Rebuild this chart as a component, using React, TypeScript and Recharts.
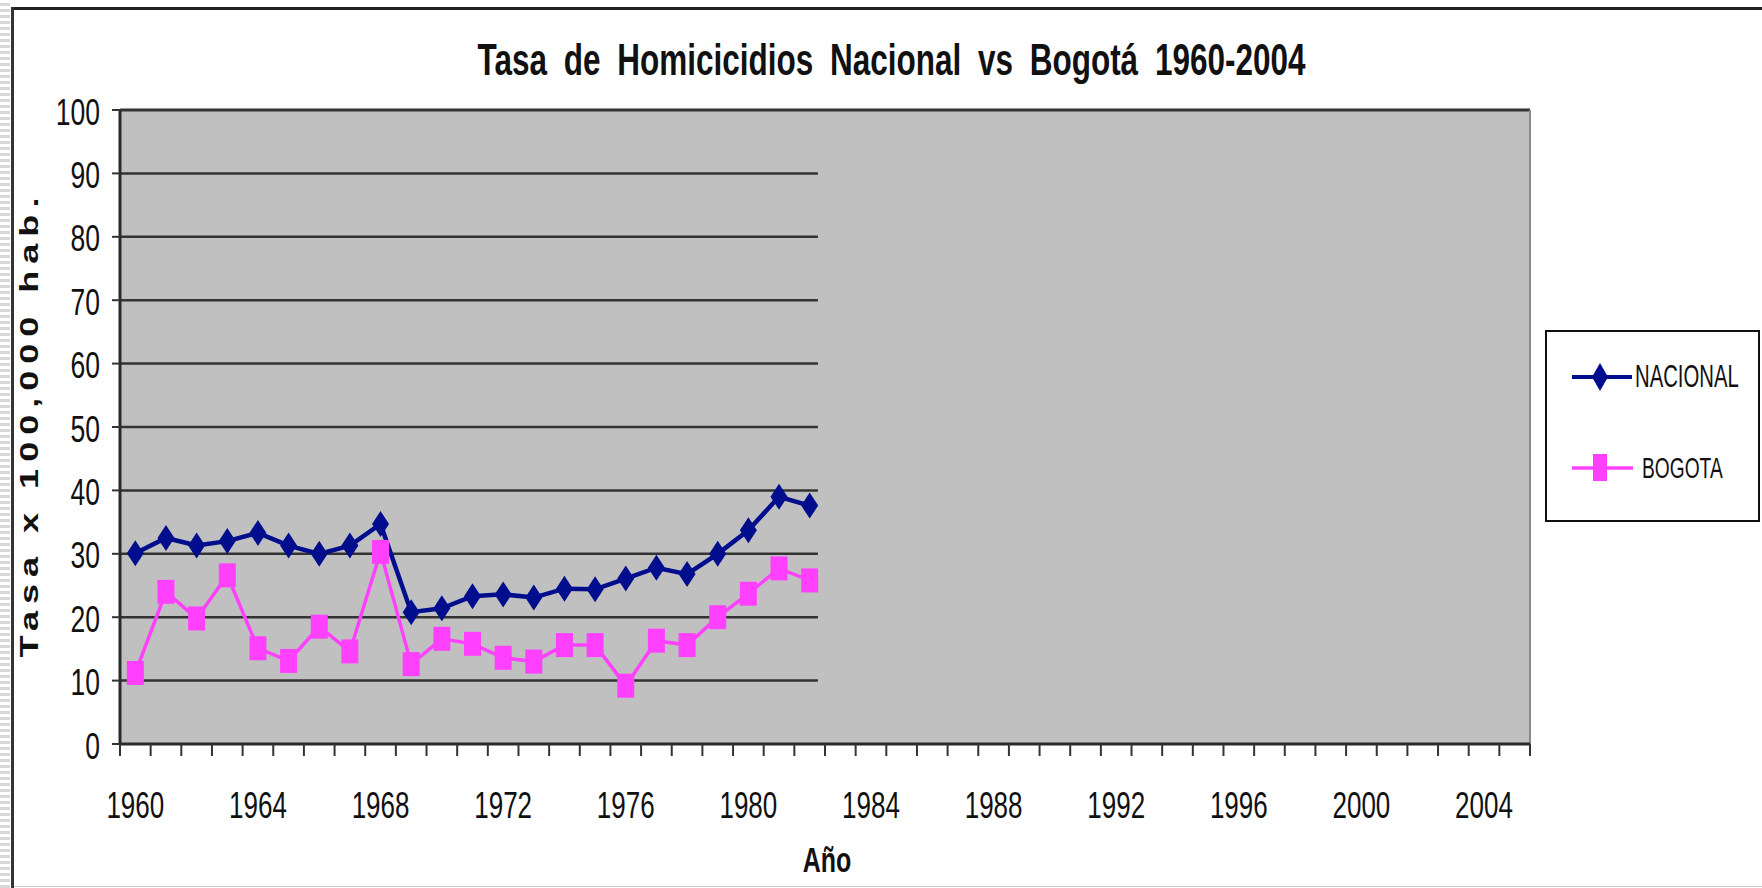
import React from 'react';
import {
  LineChart, Line, XAxis, YAxis, CartesianGrid, ReferenceLine, ReferenceArea, Legend, Customized,
} from 'recharts';

const years = [1960, 1961, 1962, 1963, 1964, 1965, 1966, 1967, 1968, 1969, 1970, 1971, 1972, 1973, 1974, 1975, 1976, 1977, 1978, 1979, 1980, 1981, 1982];
const nacional = [30.1, 32.5, 31.3, 32.0, 33.3, 31.3, 30.0, 31.3, 34.7, 20.8, 21.4, 23.3, 23.6, 23.1, 24.5, 24.4, 26.1, 27.8, 26.8, 30.0, 33.7, 39.0, 37.6];
const bogota = [11.2, 24.0, 19.8, 26.6, 15.1, 13.1, 18.5, 14.6, 30.3, 12.6, 16.6, 15.8, 13.6, 13.0, 15.6, 15.6, 9.2, 16.3, 15.6, 20.0, 23.7, 27.7, 25.8];
const yTicks = [0, 10, 20, 30, 40, 50, 60, 70, 80, 90, 100];
const gridValues = [10, 20, 30, 40, 50, 60, 70, 80, 90];
const xLabelTicks = [1960, 1964, 1968, 1972, 1976, 1980, 1984, 1988, 1992, 1996, 2000, 2004];
const xDomain: [number, number] = [1959.5, 2005.5];
const gridEnd = 1982.27;

const TITLE = 'Tasa de Homicicidios Nacional vs Bogotá 1960-2004';
const Y_TITLE = 'Tasa x 100,000 hab.';
const X_TITLE = 'Año';

const NAVY = '#000d8c';
const PINK = '#ff40ff';
const FONT = "'Liberation Sans', Arial, sans-serif";

const data = years.map((y, i) => ({ year: y, NACIONAL: nacional[i], BOGOTA: bogota[i] }));

const minorTicks: number[] = [];
for (let v = xDomain[0]; v <= xDomain[1] + 0.001; v += 1) minorTicks.push(v);
const allXTicks = [...minorTicks, ...xLabelTicks].sort((a, b) => a - b);

const YTick = (props: any) => {
  const { x, y, payload } = props;
  return (
    <text transform={`translate(${x},${y + 14.5}) scale(1,1.39)`} textAnchor="end" fontSize={26.5} fontFamily={FONT} fill="#111">
      {payload.value}
    </text>
  );
};

const XTick = (props: any) => {
  const { x, y, payload } = props;
  const v = payload.value as number;
  if (Math.abs(v % 1) > 0.01) {
    return <line x1={x} y1={y} x2={x} y2={y + 12} stroke="#333" strokeWidth={2} />;
  }
  return (
    <text transform={`translate(${x},${y + 74}) scale(1,1.39)`} textAnchor="middle" fontSize={26} fontFamily={FONT} fill="#111">
      {v}
    </text>
  );
};

const Diamond = (props: any) => {
  const { cx, cy, index, fill } = props;
  if (cx == null || cy == null) return null;
  return (
    <polygon key={`d-${index}`} points={`${cx},${cy - 13} ${cx + 8.5},${cy} ${cx},${cy + 13} ${cx - 8.5},${cy}`} fill={fill || NAVY} />
  );
};

const Square = (props: any) => {
  const { cx, cy, index, fill } = props;
  if (cx == null || cy == null) return null;
  return <rect key={`s-${index}`} x={cx - 8.5} y={cy - 12} width={17} height={24} fill={fill || PINK} />;
};

const Texts = () => (
  <g>
    <text transform="translate(891.5,75) scale(1,1.39)" textAnchor="middle" fontSize={31.5} fontWeight="bold" wordSpacing={8} fontFamily={FONT} fill="#111">
      {TITLE}
    </text>
    <text transform="translate(38,424) rotate(-90) scale(1.39,1)" textAnchor="middle" fontSize={26} fontWeight="bold" letterSpacing={5} fontFamily={FONT} fill="#111">
      {Y_TITLE}
    </text>
    <text transform="translate(827,872) scale(1,1.39)" textAnchor="middle" fontSize={25} fontWeight="bold" fontFamily={FONT} fill="#111">
      {X_TITLE}
    </text>
  </g>
);

const LegendBox = () => (
  <svg width={215} height={192} style={{ display: 'block' }}>
    <rect x={1} y={1} width={213} height={190} fill="#fff" stroke="#111" strokeWidth={2} />
    <line x1={27} y1={47} x2={87} y2={47} stroke={NAVY} strokeWidth={4} />
    <polygon points={`55,33 63,47 55,61 47,47`} fill={NAVY} />
    <text transform="translate(90,57) scale(1,1.55)" fontSize={20.3} fontFamily={FONT} fill="#111">NACIONAL</text>
    <line x1={27} y1={138} x2={88} y2={138} stroke={PINK} strokeWidth={3.5} />
    <rect x={48} y={124} width={14} height={27} fill={PINK} />
    <text transform="translate(97,148) scale(1,1.5)" fontSize={19.2} fontFamily={FONT} fill="#111">BOGOTA</text>
  </svg>
);

export default function App() {
  return (
    <div style={{ position: 'absolute', left: 0, top: 0, width: 1762, height: 888, background: '#fff', overflow: 'hidden' }}>
      <div style={{ position: 'absolute', left: 0, top: 0, width: 10, height: 888, background: 'repeating-linear-gradient(to bottom, #ffffff 0px, #ffffff 3px, #d8d8d8 3px, #d8d8d8 6px)' }} />
      <div style={{ position: 'absolute', left: 11, top: 7, width: 1751, height: 3, background: '#222' }} />
      <div style={{ position: 'absolute', left: 11, top: 7, width: 3, height: 881, background: '#333' }} />
      <div style={{ position: 'absolute', left: 14, top: 886, width: 1748, height: 1, background: '#ccc' }} />
      <div style={{ position: 'absolute', left: 0, top: 0 }}>
        <LineChart width={1762} height={888} data={data} margin={{ top: 110, right: 232, bottom: 84, left: 60 }}>
          <CartesianGrid horizontal={false} vertical={false} fill="#c0c0c0" />
          <XAxis
            dataKey="year"
            type="number"
            domain={xDomain}
            ticks={allXTicks}
            interval={0}
            tick={<XTick />}
            tickLine={false}
            tickSize={0}
            tickMargin={0}
            height={60}
            axisLine={{ stroke: '#2a2a2a', strokeWidth: 3 }}
            allowDecimals
          />
          <YAxis
            type="number"
            domain={[0, 100]}
            ticks={yTicks}
            interval={0}
            tick={<YTick />}
            tickLine={{ stroke: '#333', strokeWidth: 2 }}
            tickSize={8}
            tickMargin={12}
            width={60}
            axisLine={{ stroke: '#2a2a2a', strokeWidth: 3 }}
          />
          {gridValues.map((g) => (
            <ReferenceLine key={`g${g}`} segment={[{ x: xDomain[0], y: g }, { x: gridEnd, y: g }]} stroke="#333" strokeWidth={2.5} />
          ))}
          <Line type="linear" dataKey="NACIONAL" stroke={NAVY} strokeWidth={4.5} dot={(p: any) => <Diamond key={`dn${p.index}`} {...p} fill={NAVY} />} activeDot={false} isAnimationActive={false} />
          <Line type="linear" dataKey="BOGOTA" stroke={PINK} strokeWidth={3.5} dot={(p: any) => <Square key={`sb${p.index}`} {...p} fill={PINK} />} activeDot={false} isAnimationActive={false} />
          <ReferenceArea x1={gridEnd} x2={xDomain[1]} y1={0.3} y2={99.7} fill="#c0c0c0" fillOpacity={1} stroke="none" zIndex={450} />
          <ReferenceLine y={100} stroke="#333" strokeWidth={3} zIndex={460} />
          <ReferenceLine x={xDomain[1]} stroke="#8a8a8a" strokeWidth={2} zIndex={460} />
          <Legend layout="vertical" align="center" verticalAlign="middle" wrapperStyle={{ left: 1545, top: 330, width: 215, height: 192 }} content={() => <LegendBox />} />
          <Customized component={<Texts />} />
        </LineChart>
      </div>
    </div>
  );
}
